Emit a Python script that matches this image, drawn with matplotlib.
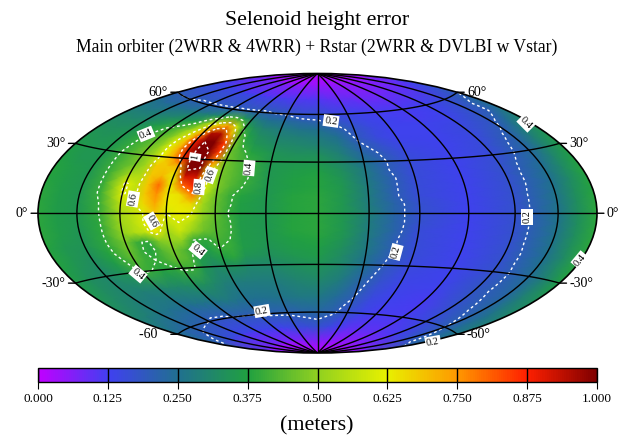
import numpy as np
import matplotlib
matplotlib.use("Agg")
import matplotlib.pyplot as plt
from matplotlib.colors import LinearSegmentedColormap

plt.rcParams['font.family'] = ['Liberation Serif', 'DejaVu Serif']

lons = [-180, -165, -150, -135, -120, -112.5, -105, -97.5, -90, -82.5, -75, -67.5, -60, -52.5, -45,
        -30, -15, 0, 15, 30, 45, 60, 90, 120, 150, 165, 180]
lats = [90, 80, 70, 60, 55, 50, 45, 40, 35, 30, 25, 20, 15, 10, 5, 0, -5, -10, -15, -20, -25, -30,
        -40, -50, -60, -70, -80, -90]

# height error (meters), one row per latitude
height_error = [
    [.00, .00, .00, .00, .00, .00, .00, .00, .00, .00, .00, .00, .00, .00, .00, .00, .00, .00, .00, .00, .00, .00, .00, .00, .00, .00, .00],
    [.06, .06, .06, .06, .06, .06, .06, .06, .06, .05, .05, .05, .05, .05, .05, .05, .05, .05, .05, .05, .05, .05, .05, .05, .05, .05, .06],
    [.14, .14, .14, .14, .13, .13, .13, .13, .13, .13, .12, .12, .12, .12, .12, .11, .11, .11, .10, .09, .09, .08, .08, .09, .10, .12, .14],
    [.20, .20, .20, .21, .21, .21, .21, .21, .21, .21, .21, .21, .21, .21, .20, .19, .17, .17, .15, .14, .13, .12, .12, .13, .16, .18, .20],
    [.25, .24, .25, .26, .27, .28, .29, .31, .35, .42, .42, .36, .30, .27, .25, .24, .22, .21, .19, .16, .14, .13, .12, .13, .17, .20, .24],
    [.28, .28, .29, .31, .34, .36, .39, .48, .60, .69, .74, .58, .38, .33, .30, .28, .26, .25, .22, .18, .15, .13, .13, .14, .18, .20, .26],
    [.31, .31, .32, .36, .41, .44, .50, .60, .74, .95, .95, .72, .44, .37, .33, .30, .29, .28, .25, .19, .15, .13, .13, .15, .19, .24, .30],
    [.33, .33, .34, .39, .44, .48, .58, .68, .88, 1.0, 1.0, .85, .47, .39, .35, .32, .31, .30, .27, .21, .17, .14, .13, .15, .21, .27, .33],
    [.35, .34, .35, .40, .46, .50, .62, .72, .92, 1.02, 1.0, .85, .46, .42, .38, .34, .33, .33, .29, .23, .19, .15, .13, .16, .22, .29, .35],
    [.36, .35, .35, .41, .47, .52, .62, .72, .85, 1.05, 1.0, .78, .47, .43, .40, .35, .35, .35, .31, .25, .20, .16, .13, .16, .23, .30, .36],
    [.37, .35, .35, .41, .47, .52, .68, .68, .70, 1.03, 1.0, .65, .47, .44, .41, .35, .36, .37, .33, .27, .20, .16, .13, .17, .24, .31, .37],
    [.38, .36, .35, .41, .53, .54, .68, .70, .62, .92, .92, .60, .47, .44, .41, .35, .37, .38, .34, .27, .21, .16, .13, .17, .25, .32, .38],
    [.38, .36, .35, .41, .61, .57, .68, .80, .62, .80, .88, .60, .48, .43, .40, .35, .37, .38, .35, .28, .21, .16, .13, .17, .25, .32, .38],
    [.39, .36, .35, .41, .61, .57, .68, .76, .63, .65, .78, .55, .46, .41, .38, .35, .38, .39, .35, .28, .21, .16, .13, .17, .26, .33, .38],
    [.39, .36, .35, .40, .57, .58, .66, .73, .63, .64, .66, .52, .45, .41, .37, .35, .38, .39, .35, .28, .22, .17, .13, .17, .26, .33, .39],
    [.39, .36, .35, .395, .53, .56, .60, .68, .60, .63, .61, .50, .45, .40, .37, .35, .38, .39, .35, .29, .22, .17, .13, .17, .26, .33, .39],
    [.39, .36, .35, .39, .52, .55, .60, .66, .57, .60, .56, .48, .44, .41, .36, .35, .38, .39, .35, .28, .22, .17, .13, .17, .26, .33, .39],
    [.39, .36, .34, .39, .50, .54, .57, .64, .52, .58, .51, .46, .43, .41, .36, .35, .38, .39, .35, .28, .22, .16, .13, .17, .26, .33, .39],
    [.38, .35, .34, .39, .47, .41, .39, .48, .50, .50, .395, .39, .42, .40, .36, .35, .37, .38, .34, .27, .21, .16, .13, .17, .26, .33, .39],
    [.38, .35, .33, .38, .46, .41, .38, .43, .47, .43, .38, .37, .40, .40, .36, .34, .36, .37, .33, .27, .21, .16, .13, .17, .25, .32, .39],
    [.37, .34, .32, .36, .43, .41, .40, .42, .45, .43, .36, .34, .37, .39, .34, .33, .35, .36, .32, .26, .20, .16, .13, .17, .25, .32, .38],
    [.36, .33, .31, .34, .41, .40, .38, .39, .41, .41, .35, .32, .33, .33, .31, .31, .33, .34, .31, .25, .19, .15, .13, .17, .24, .30, .37],
    [.34, .32, .30, .29, .30, .31, .31, .32, .33, .33, .31, .29, .28, .28, .28, .28, .30, .31, .28, .22, .17, .14, .13, .18, .23, .29, .33],
    [.30, .29, .27, .26, .25, .25, .26, .26, .26, .27, .27, .26, .25, .25, .25, .26, .27, .27, .24, .20, .15, .13, .12, .17, .22, .26, .30],
    [.25, .23, .22, .21, .20, .19, .19, .19, .20, .20, .20, .20, .21, .21, .21, .21, .22, .23, .21, .17, .14, .12, .12, .15, .20, .24, .27],
    [.21, .19, .16, .15, .14, .13, .13, .13, .13, .13, .13, .13, .13, .13, .14, .15, .16, .17, .15, .12, .10, .10, .10, .12, .17, .20, .23],
    [.08, .08, .07, .07, .07, .06, .06, .06, .06, .06, .06, .06, .06, .06, .06, .07, .07, .07, .06, .06, .05, .05, .05, .06, .07, .08, .08],
    [.00, .00, .00, .00, .00, .00, .00, .00, .00, .00, .00, .00, .00, .00, .00, .00, .00, .00, .00, .00, .00, .00, .00, .00, .00, .00, .00],
]

cbar_ticks = [0.0, 0.125, 0.25, 0.375, 0.5, 0.625, 0.75, 0.875, 1.0]
cbar_colors = ['#c000ff', '#4040f0', '#207090', '#20a040', '#90d020', '#e8f000', '#ff9900', '#ff2000', '#800000']
contour_levels = [0.2, 0.4, 0.6, 0.8, 1.0]
lat_ticks = [60, 30, 0, -30, -60]
left_labels = ['60°', '30°', '0°', '-30°', '-60   ']
right_labels = ['60°', '30°', '0°', '-30°', '-60°']

contour_texts = ['0.4', '0.6', '0.6', '0.4', '0.4', '0.4', '0.6', '0.8', '1',
                 '0.2', '0.2', '0.2', '0.4', '0.4', '0.2', '0.2']
# where those labels sit on the figure (pixels) and their rotation
label_px = [(146, 134), (133, 199), (152, 221), (138, 274), (198, 250), (249, 168), (210, 175), (199, 187), (195, 157),
            (331, 121), (396, 252), (527, 217), (526, 123), (580, 260), (433, 342), (262, 311)]
label_rot = [22, 80, -60, -40, -40, 85, 70, 85, 80, -8, 75, 90, -45, 50, 10, 10]

cmap = LinearSegmentedColormap.from_list('selenoid', cbar_colors)
lon_rad = np.deg2rad(lons)
lat_rad = np.deg2rad(lats)
z = np.array(height_error)

fig = plt.figure(figsize=(6.18, 4.37), dpi=100)
ax = fig.add_axes([38 / 618, 84 / 437, 559 / 618, 279.5 / 437], projection='hammer')
mesh = ax.pcolormesh(lon_rad, lat_rad, z, cmap=cmap, vmin=0, vmax=1, shading='gouraud')
ax.contour(lon_rad, lat_rad, z, levels=contour_levels, colors='white', linewidths=1, linestyles=[(0, (2, 2))])

ax.set_longitude_grid(30)
ax.set_latitude_grid(30)
ax.set_longitude_grid_ends(90)
ax.set_xticklabels([])
ax.set_yticklabels([])
ax.grid(True, color='black', lw=1, ls='-')
ax.set_axisbelow(False)
ax.spines['geo'].set_linewidth(1.2)

for txt, (px, py), rot in zip(contour_texts, label_px, label_rot):
    fig.text(px / 618, 1 - py / 437, txt, fontsize=7.5, rotation=rot, ha='center', va='center', zorder=5,
             rotation_mode='anchor', bbox=dict(fc='white', ec='none', pad=1))

for lat, left, right in zip(lat_ticks, left_labels, right_labels):
    for side, txt, ha in ((-1, left, 'right'), (1, right, 'left')):
        xy = (side * np.pi, np.deg2rad(lat))
        ax.annotate('', xy=xy, xytext=(side * 5, 0), textcoords='offset points', annotation_clip=False,
                    arrowprops=dict(arrowstyle='-', lw=1, color='black', shrinkA=0, shrinkB=0))
        ax.annotate(txt, xy=xy, xytext=(side * 7, 0), textcoords='offset points', ha=ha, va='center',
                    fontsize=10, annotation_clip=False)

cax = fig.add_axes([38 / 618, 55 / 437, 559 / 618, 14 / 437])
cb = fig.colorbar(mesh, cax=cax, orientation='horizontal', ticks=cbar_ticks, format='%.3f')
cb.ax.tick_params(labelsize=9.5, length=5, width=0.8, pad=3)
cb.ax.vlines(cbar_ticks, 0, 1, colors='black', lw=1)
cb.outline.set_linewidth(1)

fig.text(317 / 618, 1 - 21 / 437, 'Selenoid height error', ha='center', va='center', fontsize=15.7)
fig.text(317 / 618, 1 - 47 / 437, 'Main orbiter (2WRR & 4WRR) + Rstar (2WRR & DVLBI w Vstar)', ha='center', va='center', fontsize=12.7)
fig.text(317 / 618, 1 - 426 / 437, '(meters)', ha='center', va='center', fontsize=15.8)

fig.savefig('out.png', dpi=100)
